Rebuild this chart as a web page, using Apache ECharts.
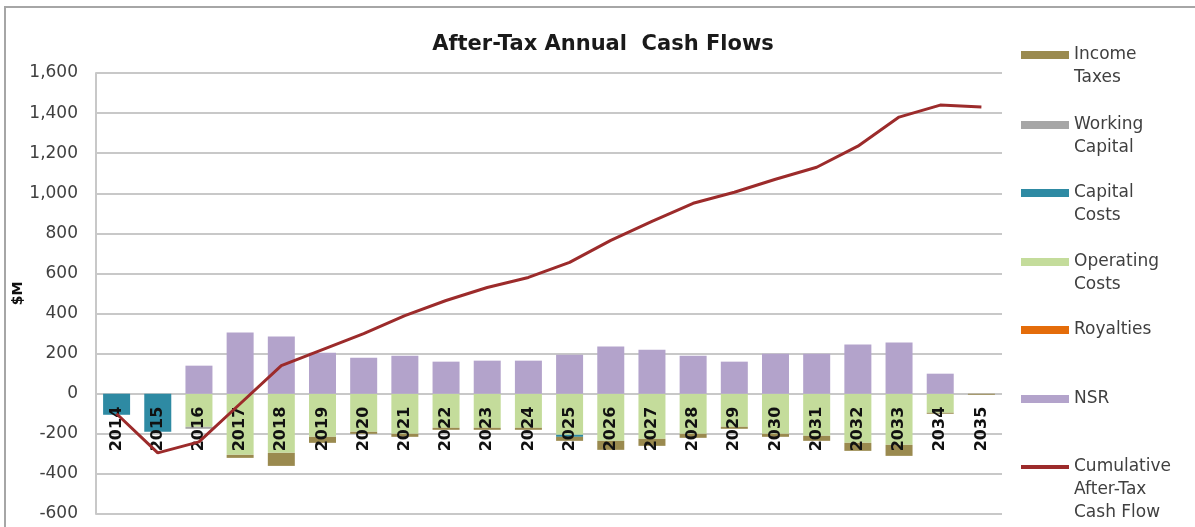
<!DOCTYPE html>
<html lang="en">

<head>
    <meta charset="UTF-8">
    <title>After-Tax Annual Cash Flows</title>
    <style>
        html, body {
            margin: 0;
            padding: 0;
            background: #fff;
        }

        #chart {
            width: 1195px;
            height: 527px;
        }
    </style>
</head>

<body>
    <div id="chart"></div>

    <script src="https://cdn.jsdelivr.net/npm/echarts@6/dist/echarts.min.js"></script>
    <script>
        // years on the x axis
        var years = ['2014', '2015', '2016', '2017', '2018', '2019', '2020', '2021', '2022', '2023', '2024',
            '2025', '2026', '2027', '2028', '2029', '2030', '2031', '2032', '2033', '2034', '2035'];

        // annual components, $M
        var nsr = [0, 0, 140, 305, 285, 205, 180, 190, 160, 165, 165, 195, 235, 220, 190, 160, 200, 200, 245, 255, 100, 0];
        var operatingCosts = [0, 0, -165, -305, -295, -215, -190, -200, -170, -170, -170, -205, -235, -225, -200, -165, -200, -210, -245, -255, -95, 0];
        var capitalCosts = [-105, -190, 0, 0, 0, 0, 0, 0, 0, 0, 0, -10, 0, 0, 0, 0, 0, 0, 0, 0, 0, 0];
        var workingCapital = [0, 0, -10, 0, 0, 0, 0, 0, 0, 0, 0, 0, 0, 0, 0, 0, 0, 0, 0, 0, 0, 0];
        var royalties = [0, 0, 0, 0, 0, 0, 0, 0, 0, 0, 0, 0, 0, 0, 0, 0, 0, 0, 0, 0, 0, 0];
        var incomeTaxes = [0, 0, 0, -15, -65, -30, -10, -15, -10, -10, -10, -20, -45, -35, -20, -10, -15, -25, -40, -55, -5, -5];

        // cumulative after-tax cash flow, $M
        var cumulative = [-100, -295, -240, -50, 140, 220, 300, 390, 465, 530, 580, 655, 765, 860, 950, 1005, 1070, 1130, 1235, 1380, 1440, 1430];

        // y axis
        var yMin = -600;
        var yMax = 1600;
        var yStep = 200;

        var font = '"DejaVu Sans", sans-serif';

        (function initChart() {
            var myChart = echarts.init(document.getElementById('chart'));

            var gridTop = 73;
            var gridBottom = 13;
            var plotH = 527 - gridTop - gridBottom;
            // the year labels sit on the zero line, not at the bottom of the plot
            var zeroOffset = -plotH * (0 - yMin) / (yMax - yMin);

            // legend labels, one legend box per entry so the spacing follows the picture
            var legendItems = [
                { name: 'Income Taxes', lines: ['Income', 'Taxes'], y: 55 },
                { name: 'Working Capital', lines: ['Working', 'Capital'], y: 125 },
                { name: 'Capital Costs', lines: ['Capital', 'Costs'], y: 193 },
                { name: 'Operating Costs', lines: ['Operating', 'Costs'], y: 262 },
                { name: 'Royalties', lines: ['Royalties'], y: 330 },
                { name: 'NSR', lines: ['NSR'], y: 399 },
                { name: 'Cumulative After-Tax Cash Flow', lines: ['Cumulative', 'After-Tax', 'Cash Flow'], y: 467 }
            ];
            var lineH = 23;

            var legends = legendItems.map(function(it) {
                var pad = [];
                for (var i = 1; i < it.lines.length; i++) {
                    pad.push('');
                }
                var text = pad.concat(it.lines).join('\n');
                var n = it.lines.length * 2 - 1;
                var isLine = it.name.indexOf('Cumulative') === 0;
                return {
                    data: [it.name],
                    orient: 'vertical',
                    left: 1021,
                    top: it.y - n * lineH / 2,
                    padding: 0,
                    icon: 'rect',
                    itemWidth: 48,
                    itemHeight: isLine ? 4 : 8,
                    selectedMode: false,
                    formatter: function() {
                        return text;
                    },
                    textStyle: {
                        fontFamily: font,
                        fontSize: 17,
                        color: '#404040',
                        lineHeight: lineH
                    }
                };
            });

            function bar(name, data, color) {
                return {
                    name: name,
                    type: 'bar',
                    stack: 'cf',
                    barWidth: 27,
                    data: data,
                    itemStyle: {
                        color: color
                    }
                };
            }

            var options = {
                backgroundColor: '#fff',
                animation: false,

                title: {
                    text: 'After-Tax Annual  Cash Flows',
                    left: 598,
                    textAlign: 'center',
                    top: 29,
                    textStyle: {
                        fontFamily: font,
                        fontSize: 21,
                        fontWeight: 'bold',
                        color: '#1a1a1a'
                    }
                },

                graphic: [{
                    type: 'rect',
                    shape: { x: 5, y: 7, width: 1200, height: 540 },
                    style: { fill: 'none', stroke: '#a6a6a6', lineWidth: 2 },
                    silent: true
                }],

                legend: legends,

                grid: {
                    left: 96,
                    right: 193,
                    top: gridTop,
                    bottom: gridBottom,
                    containLabel: false,
                    outerBoundsMode: 'none'
                },

                xAxis: [{
                    type: 'category',
                    data: years,
                    position: 'bottom',
                    offset: zeroOffset,
                    z: 10,
                    axisLine: {
                        show: false,
                        onZero: false
                    },
                    axisTick: {
                        show: false
                    },
                    splitLine: {
                        show: false
                    },
                    axisLabel: {
                        rotate: 90,
                        margin: 13,
                        interval: 0,
                        fontFamily: font,
                        fontSize: 16,
                        fontWeight: 'bold',
                        color: '#111'
                    }
                }],

                yAxis: [{
                    type: 'value',
                    min: yMin,
                    max: yMax,
                    interval: yStep,
                    name: '$M',
                    nameLocation: 'middle',
                    nameGap: 71,
                    nameMoveOverlap: false,
                    nameTextStyle: {
                        fontFamily: font,
                        fontSize: 14,
                        fontWeight: 'bold',
                        color: '#111'
                    },
                    axisLine: {
                        show: true,
                        lineStyle: {
                            color: '#c8c8c8',
                            width: 2
                        }
                    },
                    axisTick: {
                        show: false
                    },
                    splitLine: {
                        lineStyle: {
                            color: '#c8c8c8',
                            width: 2
                        }
                    },
                    axisLabel: {
                        margin: 18,
                        fontFamily: font,
                        fontSize: 17,
                        color: '#404040',
                        formatter: function(v) {
                            return v.toString().replace(/\B(?=(\d{3})+(?!\d))/g, ',');
                        }
                    }
                }],

                series: [
                    bar('Operating Costs', operatingCosts, '#c4dc9b'),
                    bar('Capital Costs', capitalCosts, '#2e8aa3'),
                    bar('Working Capital', workingCapital, '#a6a6a6'),
                    bar('Royalties', royalties, '#e46c0a'),
                    bar('Income Taxes', incomeTaxes, '#9a8a4f'),
                    bar('NSR', nsr, '#b3a3cb'),
                    {
                        name: 'Cumulative After-Tax Cash Flow',
                        type: 'line',
                        data: cumulative,
                        symbol: 'none',
                        z: 20,
                        lineStyle: {
                            color: '#9c2b2b',
                            width: 3
                        },
                        itemStyle: {
                            color: '#9c2b2b'
                        }
                    }
                ]
            };

            myChart.setOption(options, true);
        })();
    </script>
</body>

</html>
